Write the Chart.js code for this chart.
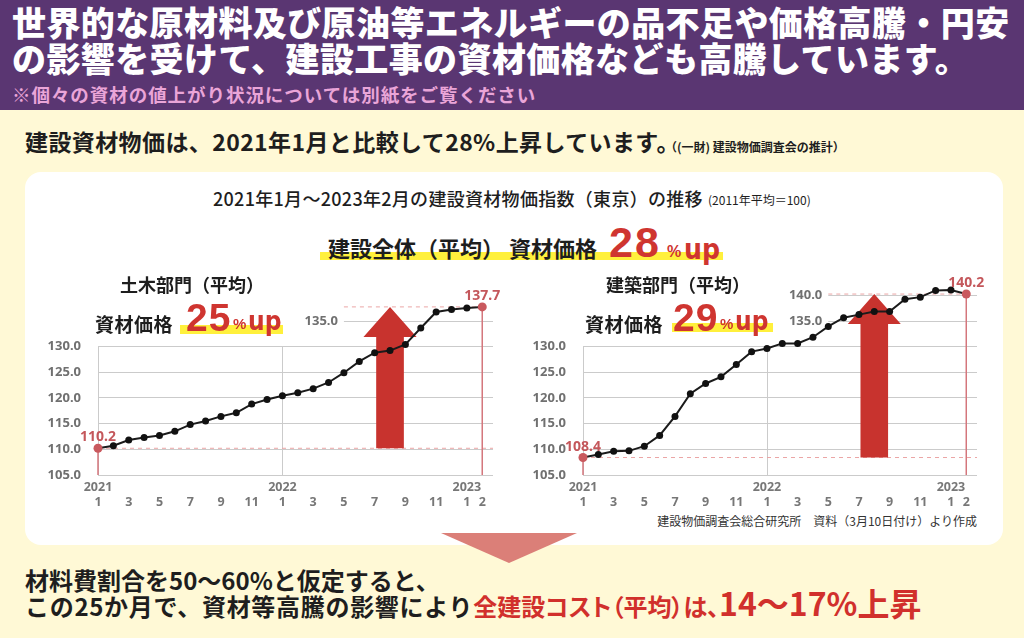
<!DOCTYPE html>
<html lang="ja">
<head>
<meta charset="utf-8">
<script src="https://cdn.jsdelivr.net/npm/chart.js@4.4.1/dist/chart.umd.min.js"></script>
<style>
  html, body { margin: 0; padding: 0; }
  body { width: 1024px; height: 638px; overflow: hidden; position: relative; background: #fff9d6;
         font-family: "Noto Sans CJK JP", sans-serif; color: #1e1e1e; }
  .abs { position: absolute; white-space: nowrap; line-height: 1; }
  #band { left: 0; top: 0; width: 1024px; height: 110px; background: #5a3672; }
  .head { left: 12px; font-size: 34px; font-weight: 900; color: #fff; letter-spacing: 0.4px; }
  #panel { left: 25px; top: 172px; width: 978px; height: 373px; background: #fff; border-radius: 16px; }
  .num { font-family: "Liberation Sans", sans-serif; font-weight: 700; color: #cf3530; }
  .mark { background: #fff03c; }
  canvas { position: absolute; }
  .red { color: #d1302c; }
  .palt { font-feature-settings: "palt"; }
  #tri { left: 441px; top: 533px; width: 0; height: 0; border-left: 68px solid transparent;
         border-right: 68px solid transparent; border-top: 30px solid #db7f78; }
</style>
</head>
<body>
<div id="band" class="abs"></div>
<div class="abs head" style="top:5px">世界的な原材料及び原油等エネルギーの品不足や価格高騰・円安</div>
<div class="abs head" style="top:41px">の影響を受けて、建設工事の資材価格なども高騰しています。</div>
<div class="abs" style="left:12px;top:85px;font-size:18.5px;font-weight:700;color:#eaa5d8;letter-spacing:0.95px">※個々の資材の値上がり状況については別紙をご覧ください</div>

<div class="abs" style="left:25px;top:130px;font-size:23px;font-weight:700;letter-spacing:0.4px">建設資材物価は、2021年1月と比較して28%上昇しています。</div>
<div class="abs" style="left:665px;top:141px;font-size:12px;font-weight:700">（(一財) 建設物価調査会の推計）</div>

<div id="panel" class="abs"></div>
<div class="abs" style="left:213px;top:189px;font-size:18px;font-weight:500;letter-spacing:0.3px">2021年1月～2023年2月の建設資材物価指数（東京）の推移</div>
<div class="abs" style="left:708px;top:194px;font-size:12px">(2011年平均＝100)</div>

<div class="abs mark" style="left:320px;top:252px;width:403px;height:8px"></div>
<div class="abs" style="left:328px;top:236px;font-size:22px;font-weight:700">建設全体（平均） 資材価格</div>
<div class="abs num" style="left:609px;top:221px;font-size:43px;letter-spacing:2px">28</div>
<div class="abs num" style="left:667px;top:244px;font-size:16px">%</div>
<div class="abs num" style="left:684px;top:236px;font-size:28px;font-family:'DejaVu Sans Condensed'">up</div>

<canvas id="civilChart" width="470" height="252" style="left:30px;top:260px"></canvas>
<canvas id="buildChart" width="470" height="252" style="left:515px;top:260px"></canvas>

<div class="abs" style="left:120px;top:275px;font-size:18px;font-weight:700">土木部門（平均）</div>
<div class="abs mark" style="left:180px;top:325px;width:103px;height:9px"></div>
<div class="abs" style="left:95px;top:314px;font-size:19px;font-weight:700;letter-spacing:0.5px">資材価格</div>
<div class="abs num" style="left:186px;top:298px;font-size:39px;letter-spacing:1px">25</div>
<div class="abs num" style="left:233px;top:316px;font-size:15px">%</div>
<div class="abs num" style="left:248px;top:308px;font-size:26px;font-family:'DejaVu Sans Condensed'">up</div>

<div class="abs" style="left:606px;top:275px;font-size:18px;font-weight:700">建築部門（平均）</div>
<div class="abs mark" style="left:672px;top:323px;width:101px;height:9px"></div>
<div class="abs" style="left:585px;top:314px;font-size:19px;font-weight:700;letter-spacing:0.5px">資材価格</div>
<div class="abs num" style="left:673px;top:298px;font-size:39px;letter-spacing:1px">29</div>
<div class="abs num" style="left:720px;top:316px;font-size:15px">%</div>
<div class="abs num" style="left:735px;top:308px;font-size:26px;font-family:'DejaVu Sans Condensed'">up</div>

<div class="abs" style="right:47px;top:515px;font-size:12px;color:#333">建設物価調査会総合研究所　資料（3月10日付け）より作成</div>

<div id="tri" class="abs"></div>
<div class="abs" style="left:25px;top:568px;font-size:24px;font-weight:700">材料費割合を50～60%と仮定すると、</div>
<div class="abs" style="left:25px;top:586px;font-size:24px;font-weight:700"><span style="letter-spacing:0.7px">この25か月で、資材等高騰の影響により</span><span class="red palt">全建設コスト（平均）は、</span><span class="red" style="font-size:32px">14～17%上昇</span></div>

<script>
// months Jan 2021 .. Feb 2023
const monthLabels = ['1','2','3','4','5','6','7','8','9','10','11','12',
                     '1','2','3','4','5','6','7','8','9','10','11','12','1','2'];
const yearLabels = ['2021','','','','','','','','','','','',
                    '2022','','','','','','','','','','','','2023',''];
const civilIndex = [110.2, 110.7, 111.8, 112.3, 112.7, 113.5, 114.8, 115.5, 116.4, 117.1, 118.8, 119.7,
                    120.4, 121.0, 121.8, 123.0, 124.9, 127.1, 128.8, 129.2, 130.4, 133.6, 136.7, 137.2, 137.5, 137.7];
const buildingIndex = [108.4, 109.0, 109.6, 109.7, 110.6, 112.7, 116.4, 120.8, 122.8, 124.1, 126.5, 129.0,
                       129.6, 130.6, 130.6, 131.8, 133.9, 135.6, 136.2, 136.8, 136.8, 139.2, 139.6, 140.9, 141.0, 140.2];
const yTicks = [105, 110, 115, 120, 125, 130];
const civilInnerTicks = [135];
const buildingInnerTicks = [135, 140];

const GRID = '#cbcbcb';
const LABEL_RED = '#c4575b';

// extra drawing: partial grid lines, reference lines, arrow, end labels
const decoPlugin = {
  id: 'deco',
  beforeDatasetsDraw(chart, args, opts) {
    const { ctx, chartArea: a, scales: { x, y } } = chart;
    const pts = chart.data.datasets[0].data;
    const first = pts[0], last = pts[pts.length - 1];
    ctx.save();
    ctx.lineWidth = 1;
    ctx.strokeStyle = GRID;
    // year start lines
    opts.yearStarts.forEach(i => {
      const px = Math.round(x.getPixelForValue(i)) + 0.5;
      ctx.beginPath();
      ctx.moveTo(px, y.getPixelForValue(yTicks[yTicks.length - 1]));
      ctx.lineTo(px, y.getPixelForValue(yTicks[0]));
      ctx.stroke();
    });
    // upper grid lines with labels inside the plot
    const gx = x.getPixelForValue(opts.innerFrom);
    ctx.font = 'bold 13px "Noto Sans"';
    ctx.fillStyle = '#707070';
    ctx.textAlign = 'right';
    ctx.textBaseline = 'middle';
    opts.innerTicks.forEach(v => {
      const py = Math.round(y.getPixelForValue(v)) + 0.5;
      ctx.beginPath();
      ctx.moveTo(gx, py);
      ctx.lineTo(a.right, py);
      ctx.stroke();
      ctx.fillText(v.toFixed(1), gx - 6, py);
    });
    // dashed reference lines
    ctx.strokeStyle = '#eba5a5';
    ctx.setLineDash([4, 4]);
    const yFirst = y.getPixelForValue(first.y), yLast = y.getPixelForValue(last.y);
    ctx.beginPath();
    ctx.moveTo(x.getPixelForValue(first.x), yFirst);
    ctx.lineTo(a.right, yFirst);
    ctx.moveTo(gx, yLast);
    ctx.lineTo(x.getPixelForValue(last.x), yLast);
    ctx.stroke();
    ctx.setLineDash([]);
    // drop lines from first and last points
    ctx.strokeStyle = '#d4767c';
    ctx.lineWidth = 1.5;
    [first, last].forEach(p => {
      const px = x.getPixelForValue(p.x);
      ctx.beginPath();
      ctx.moveTo(px, y.getPixelForValue(p.y));
      ctx.lineTo(px, a.bottom);
      ctx.stroke();
    });
    // big arrow
    const ax = x.getPixelForValue(opts.arrowAt);
    const unit = x.getPixelForValue(1) - x.getPixelForValue(0);
    const bw = unit * 0.9, hw = unit * 1.73, hh = 30;
    ctx.fillStyle = '#c8332e';
    ctx.beginPath();
    ctx.moveTo(ax - bw, yFirst);
    ctx.lineTo(ax - bw, yLast + hh);
    ctx.lineTo(ax - hw, yLast + hh);
    ctx.lineTo(ax, yLast);
    ctx.lineTo(ax + hw, yLast + hh);
    ctx.lineTo(ax + bw, yLast + hh);
    ctx.lineTo(ax + bw, yFirst);
    ctx.closePath();
    ctx.fill();
    ctx.restore();
  },
  afterDatasetsDraw(chart) {
    const { ctx, scales: { x, y } } = chart;
    const pts = chart.data.datasets[0].data;
    ctx.save();
    ctx.font = 'bold 14px "Noto Sans"';
    ctx.fillStyle = LABEL_RED;
    ctx.textAlign = 'center';
    ctx.textBaseline = 'bottom';
    [pts[0], pts[pts.length - 1]].forEach(p => {
      ctx.fillText(p.y.toFixed(1), x.getPixelForValue(p.x), y.getPixelForValue(p.y) - 4);
    });
    ctx.restore();
  }
};

function makeChart(id, values, innerTicks, padRight) {
  const n = values.length - 1;
  return new Chart(document.getElementById(id), {
    type: 'line',
    data: {
      datasets: [{
        data: values.map((v, i) => ({ x: i, y: v })),
        borderColor: '#1b1b1b',
        borderWidth: 2,
        tension: 0,
        clip: false,
        pointRadius: c => (c.dataIndex === 0 || c.dataIndex === n) ? 4.5 : 3.5,
        pointBackgroundColor: c => (c.dataIndex === 0 || c.dataIndex === n) ? '#c9595e' : '#111',
        pointBorderColor: c => (c.dataIndex === 0 || c.dataIndex === n) ? '#c9595e' : '#111',
        pointBorderWidth: 0
      }]
    },
    options: {
      responsive: false,
      animation: false,
      layout: { padding: { top: 22, right: padRight, bottom: 0, left: 0 } },
      plugins: {
        legend: { display: false },
        tooltip: { enabled: false },
        deco: { yearStarts: [0, 12], innerTicks: innerTicks, innerFrom: 16, arrowAt: 19 }
      },
      scales: {
        x: {
          type: 'linear',
          min: 0,
          max: 25.7,
          afterBuildTicks: s => { s.ticks = monthLabels.map((m, i) => ({ value: i })); },
          afterFit: s => { s.height = 37; },
          grid: { display: false, drawTicks: false },
          border: { display: false },
          ticks: {
            autoSkip: false,
            maxRotation: 0,
            padding: 5,
            color: '#777',
            font: { family: 'Noto Sans', size: 12.5, weight: 'bold', lineHeight: 1.2 },
            callback: v => {
              const m = monthLabels[v];
              if (m === undefined) return null;
              if (Number(m) % 2 === 1 || v === monthLabels.length - 1) return [yearLabels[v], m];
              return null;
            }
          }
        },
        y: {
          min: 105,
          max: 142,
          afterBuildTicks: s => { s.ticks = yTicks.map(v => ({ value: v })); },
          afterFit: s => { s.width = 68; },
          grid: { color: GRID, drawTicks: false },
          border: { display: false },
          ticks: {
            padding: 17,
            color: '#707070',
            font: { family: 'Noto Sans', size: 13, weight: 'bold' },
            callback: v => v.toFixed(1)
          }
        }
      }
    },
    plugins: [decoPlugin]
  });
}

makeChart('civilChart', civilIndex, civilInnerTicks, 7);
makeChart('buildChart', buildingIndex, buildingInnerTicks, 8);
</script>
</body>
</html>
